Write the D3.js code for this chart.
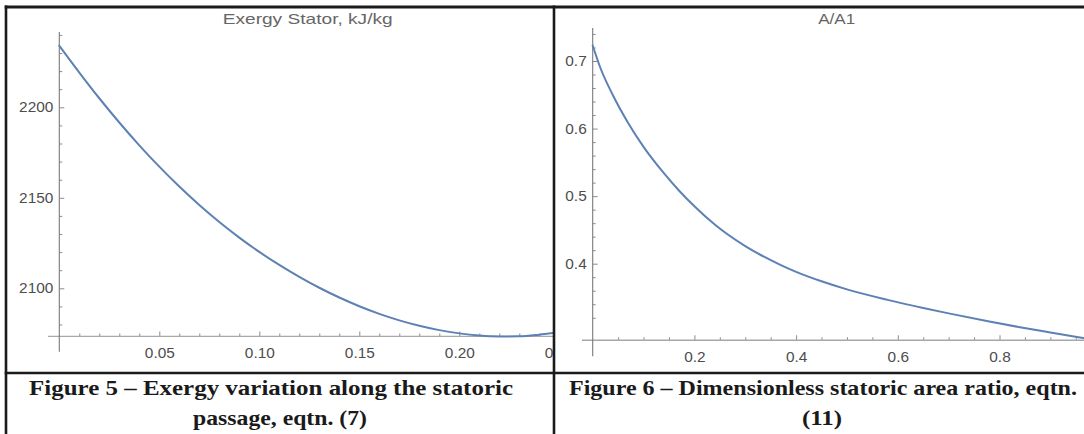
<!DOCTYPE html>
<html>
<head>
<meta charset="utf-8">
<script src="https://cdn.jsdelivr.net/npm/d3@7"></script>
<style>
  html, body { margin: 0; padding: 0; background: #fff; }
  svg { display: block; }
</style>
</head>
<body>
<svg id="fig" width="1084" height="434"></svg>
<script>
// Exergy along the stator passage, kJ/kg
const exergyX = [0, 0.01, 0.02, 0.03, 0.04, 0.05, 0.06, 0.07, 0.08, 0.09, 0.10,
                 0.11, 0.12, 0.13, 0.14, 0.15, 0.16, 0.17, 0.18, 0.19, 0.20,
                 0.21, 0.22, 0.23, 0.24, 0.247];
const exergyY = [2234.0, 2219.2, 2205.0, 2191.6, 2179.0, 2167.2, 2156.2, 2146.0, 2136.6, 2128.0, 2120.1,
                 2112.9, 2106.3, 2100.3, 2094.9, 2090.1, 2085.9, 2082.3, 2079.3, 2076.9, 2075.1,
                 2073.9, 2073.4, 2073.5, 2074.4, 2075.3];

// Dimensionless area ratio A/A1
const areaX = [0, 0.015, 0.04, 0.07, 0.10, 0.14, 0.17, 0.20, 0.24, 0.30, 0.37,
               0.40, 0.45, 0.50, 0.58, 0.65, 0.70, 0.78, 0.84, 0.90, 0.965];
const areaY = [0.723, 0.690, 0.649, 0.608, 0.573, 0.534, 0.508, 0.485, 0.458, 0.426, 0.398,
               0.388, 0.374, 0.362, 0.3465, 0.3345, 0.3265, 0.3145, 0.3060, 0.2982, 0.2900];

// Tick values
const exergyTicksX = [0.05, 0.10, 0.15, 0.20, 0.25];
const exergyTicksY = [2100, 2150, 2200];
const areaTicksX = [0.2, 0.4, 0.6, 0.8];
const areaTicksY = [0.4, 0.5, 0.6, 0.7];

const plotTitles = ["Exergy Stator, kJ/kg", "A/A1"];
const captionLeft = ["Figure 5 \u2013 Exergy variation along the statoric", "passage, eqtn. (7)"];
const captionRight = ["Figure 6 \u2013 Dimensionless statoric area ratio, eqtn.", "(11)"];

const svg = d3.select("#fig");
const LINE = "#5e81b5";
const AXIS = "#8c8c8c";
const LABEL = "#4d4d4d";
const SANS = "'Liberation Sans', Arial, Helvetica, sans-serif";
const SERIF = "'Liberation Serif', 'Times New Roman', serif";
const STRETCH = 1.1;

// widen text horizontally around its anchor x
function stretch(sel) {
  sel.each(function () {
    const t = d3.select(this);
    const x = +t.attr("x") || 0;
    t.attr("transform", `translate(${x * (1 - STRETCH)},0) scale(${STRETCH},1)`);
  });
}

const defs = svg.append("defs");
defs.append("clipPath").attr("id", "clipL")
  .append("rect").attr("x", 0).attr("y", 0).attr("width", 553).attr("height", 372);
defs.append("clipPath").attr("id", "clipR")
  .append("rect").attr("x", 555).attr("y", 0).attr("width", 529).attr("height", 372);

function panel(cfg) {
  const g = svg.append("g").attr("clip-path", `url(#${cfg.clip})`);
  const x = cfg.x, y = cfg.y;
  const axisYpos = y(cfg.originY);
  const axisXpos = x(0);

  // minor ticks
  const minorX = g.append("g").attr("transform", `translate(0,${axisYpos})`)
    .call(d3.axisBottom(x).tickValues(cfg.minorX).tickSizeInner(-3).tickSizeOuter(0).tickFormat(""));
  const minorY = g.append("g").attr("transform", `translate(${axisXpos},0)`)
    .call(d3.axisLeft(y).tickValues(cfg.minorY).tickSizeInner(-3).tickSizeOuter(0).tickFormat(""));

  // major ticks with labels
  const majX = g.append("g").attr("transform", `translate(0,${axisYpos})`)
    .call(d3.axisBottom(x).tickValues(cfg.majorX).tickSizeInner(-5).tickSizeOuter(0)
      .tickPadding(11.5).tickFormat(cfg.fmtX));
  const majY = g.append("g").attr("transform", `translate(${axisXpos},0)`)
    .call(d3.axisLeft(y).tickValues(cfg.majorY).tickSizeInner(-5).tickSizeOuter(0)
      .tickPadding(6).tickFormat(cfg.fmtY));

  [minorX, minorY, majX, majY].forEach(a => {
    a.select(".domain").remove();
    a.selectAll("line").attr("stroke", AXIS).attr("stroke-width", 1);
    a.selectAll("text").attr("fill", LABEL).attr("font-family", SANS).attr("font-size", 14);
  });
  stretch(majX.selectAll("text"));
  stretch(majY.selectAll("text"));

  // axis lines
  g.append("line")
    .attr("x1", cfg.xLineFrom).attr("x2", cfg.xLineTo)
    .attr("y1", axisYpos).attr("y2", axisYpos)
    .attr("stroke", "#a8a8a8").attr("stroke-width", 1.3);
  g.append("line")
    .attr("x1", axisXpos).attr("x2", axisXpos)
    .attr("y1", y(cfg.yLineTop)).attr("y2", y(cfg.yLineBottom))
    .attr("stroke", "#7a7a7a").attr("stroke-width", 1.1);

  // curve
  const line = d3.line().x(d => x(d[0])).y(d => y(d[1])).curve(d3.curveMonotoneX);
  g.append("path")
    .datum(cfg.xs.map((v, i) => [v, cfg.ys[i]]))
    .attr("d", line)
    .attr("fill", "none").attr("stroke", LINE).attr("stroke-width", 2)
    .attr("stroke-linejoin", "round").attr("stroke-linecap", "round");

  // plot label
  svg.append("text")
    .attr("x", cfg.titleX).attr("y", 24)
    .attr("text-anchor", "middle")
    .attr("font-family", SANS).attr("font-size", 15).attr("fill", "#666")
    .attr("textLength", cfg.titleLen).attr("lengthAdjust", "spacingAndGlyphs")
    .text(cfg.title);
}

// Left: exergy
const xL = d3.scaleLinear().domain([0, 0.25]).range([59.3, 559.3]);
const yL = d3.scaleLinear().domain([2100, 2200]).range([288.3, 107.3]);
const minorXL = d3.range(1, 25).map(i => i / 100).filter(v => Math.round(v * 100) % 5 !== 0);
const minorYL = d3.range(2080, 2250, 10).filter(v => v % 50 !== 0);
panel({
  clip: "clipL", x: xL, y: yL, originY: 2073.4,
  majorX: exergyTicksX, majorY: exergyTicksY,
  minorX: minorXL, minorY: minorYL,
  fmtX: d3.format(".2f"), fmtY: d3.format("d"),
  xLineFrom: 48, xLineTo: 553,
  yLineTop: 2241.6, yLineBottom: 2065.0,
  xs: exergyX, ys: exergyY,
  title: plotTitles[0], titleX: 307.7, titleLen: 170
});

// Right: area ratio
const xR = d3.scaleLinear().domain([0, 1]).range([592.7, 1101.2]);
const yR = d3.scaleLinear().domain([0.4, 0.7]).range([263.7, 61]);
const minorXR = d3.range(1, 20).map(i => i * 0.05).filter((v, i) => (i + 1) % 4 !== 0);
const minorYR = d3.range(15, 38).map(i => i * 0.02).filter(v => Math.abs(v * 10 - Math.round(v * 10)) > 1e-6);
panel({
  clip: "clipR", x: xR, y: yR, originY: 0.2867,
  majorX: areaTicksX, majorY: areaTicksY,
  minorX: minorXR, minorY: minorYR,
  fmtX: d3.format(".1f"), fmtY: d3.format(".1f"),
  xLineFrom: 582, xLineTo: 1084,
  yLineTop: 0.749, yLineBottom: 0.263,
  xs: areaX, ys: areaY,
  title: plotTitles[1], titleX: 836.7, titleLen: 37
});

// Captions
function caption(lines, specs) {
  lines.forEach((t, i) => {
    svg.append("text")
      .attr("x", specs[i][0]).attr("y", specs[i][2])
      .attr("font-family", SERIF).attr("font-weight", "bold").attr("font-size", 21)
      .attr("fill", "#1a1a1a")
      .attr("textLength", specs[i][1]).attr("lengthAdjust", "spacingAndGlyphs")
      .text(t);
  });
}
caption(captionLeft, [[29, 484, 395], [193, 174, 425]]);
caption(captionRight, [[569, 508, 395], [802, 40, 425]]);

// Table frame
const frame = svg.append("g").attr("stroke", "#1a1a1a").attr("fill", "none");
frame.append("line").attr("x1", 4.7).attr("x2", 1084).attr("y1", 7).attr("y2", 7).attr("stroke-width", 3);
frame.append("line").attr("x1", 4.7).attr("x2", 1084).attr("y1", 373).attr("y2", 373).attr("stroke-width", 2.6);
frame.append("line").attr("x1", 6).attr("x2", 6).attr("y1", 5.5).attr("y2", 434).attr("stroke-width", 2.6);
frame.append("line").attr("x1", 554).attr("x2", 554).attr("y1", 5.5).attr("y2", 434).attr("stroke-width", 2.6);
</script>
</body>
</html>
